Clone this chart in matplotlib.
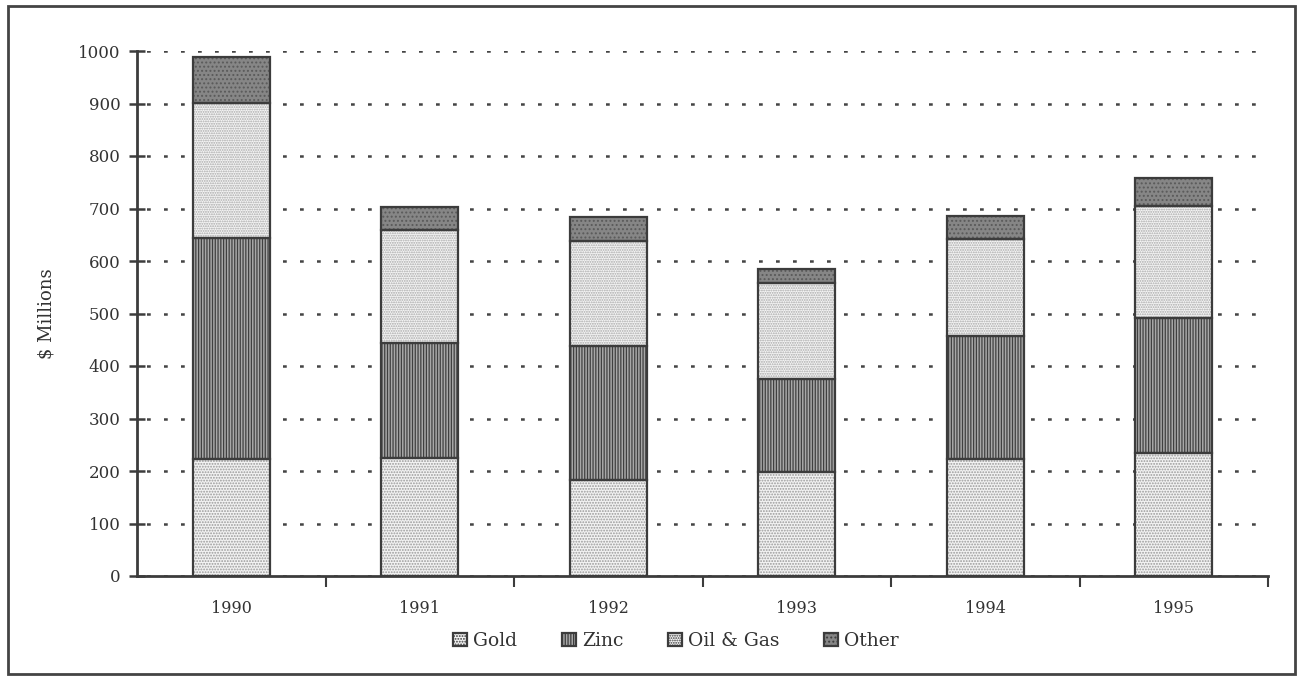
import matplotlib
matplotlib.use("Agg")
import matplotlib.pyplot as plt
from matplotlib.patches import Patch, Rectangle
import numpy as np

years = ["1990", "1991", "1992", "1993", "1994", "1995"]
series_names = ["Gold", "Zinc", "Oil & Gas", "Other"]
gold = [223, 225, 182, 198, 222, 234]
zinc = [421, 219, 256, 177, 235, 257]
oil_gas = [257, 215, 200, 183, 184, 214]
other = [88, 44, 45, 27, 44, 53]
y_ticks = [0, 100, 200, 300, 400, 500, 600, 700, 800, 900, 1000]

plt.rcParams["font.family"] = ["DejaVu Serif"]
plt.rcParams["hatch.linewidth"] = 0.9

INK = "#3c3c3c"
styles = [
    dict(face="#f2f2f2", hatch="......", hcol="#9a9a9a"),   # Gold
    dict(face="#a8a8a8", hatch="||||||", hcol="#404040"),   # Zinc
    dict(face="#f4f4f4", hatch=".......", hcol="#a8a8a8"),  # Oil & Gas
    dict(face="#868686", hatch="....", hcol="#5a5a5a"),     # Other
]

fig = plt.figure(figsize=(12.97, 6.79), dpi=100)
W, H = 1297, 679
ax = fig.add_axes([137 / W, 1 - 576 / H, (1268 - 137) / W, (576 - 51) / H])

x = np.arange(len(years))
width = 0.41
values = [gold, zinc, oil_gas, other]
bottom = np.zeros(len(years))
for vals, st in zip(values, styles):
    vals = np.array(vals, dtype=float)
    # hatched fill
    ax.bar(x, vals, width, bottom=bottom, color=st["face"], hatch=st["hatch"],
           edgecolor=st["hcol"], linewidth=0, zorder=2)
    # outline
    ax.bar(x, vals, width, bottom=bottom, fill=False, edgecolor=INK,
           linewidth=1.6, zorder=3)
    bottom += vals

ax.set_xlim(-0.5, len(years) - 0.5)
ax.set_ylim(0, 1000)
ax.set_yticks(y_ticks)
ax.set_yticklabels([str(v) for v in y_ticks], fontsize=12, color="#333333")
ax.set_xticks(x)
ax.set_xticklabels(years, fontsize=11.5, color="#333333")
ax.set_xticks(np.arange(len(years)) + 0.5, minor=True)
ax.tick_params(axis="x", which="major", length=0, pad=17)
ax.tick_params(axis="x", which="minor", length=8, width=1.5, color=INK, direction="out")
ax.tick_params(axis="y", which="major", length=12, width=1.8, color=INK,
               direction="inout", pad=6)

for s in ["top", "right"]:
    ax.spines[s].set_visible(False)
for s in ["left", "bottom"]:
    ax.spines[s].set_color(INK)
    ax.spines[s].set_linewidth(2.0)

ax.set_axisbelow(True)
ax.yaxis.grid(True, color="#444444", linewidth=1.8, linestyle=(3, (1.5, 5.3)))
ax.xaxis.grid(False)

ax.set_ylabel("$ Millions", fontsize=13, color="#333333", labelpad=16)

handles = [Patch(facecolor=st["face"], hatch=st["hatch"], edgecolor=INK,
                 linewidth=1.6) for st in styles]
fig.legend(handles, series_names, loc="center", ncol=4,
           bbox_to_anchor=(676 / W, 1 - 641 / H), frameon=False, fontsize=13.5,
           handlelength=0.75, handleheight=0.75, handletextpad=0.3,
           columnspacing=2.4, labelcolor="#333333")

# outer frame around the whole chart
fig.patches.append(Rectangle((8 / W, 5 / H), (1295 - 8) / W, (673 - 5) / H,
                             transform=fig.transFigure, fill=False,
                             edgecolor="#444444", linewidth=2.0))

fig.savefig("out.png", dpi=100, facecolor="white")
